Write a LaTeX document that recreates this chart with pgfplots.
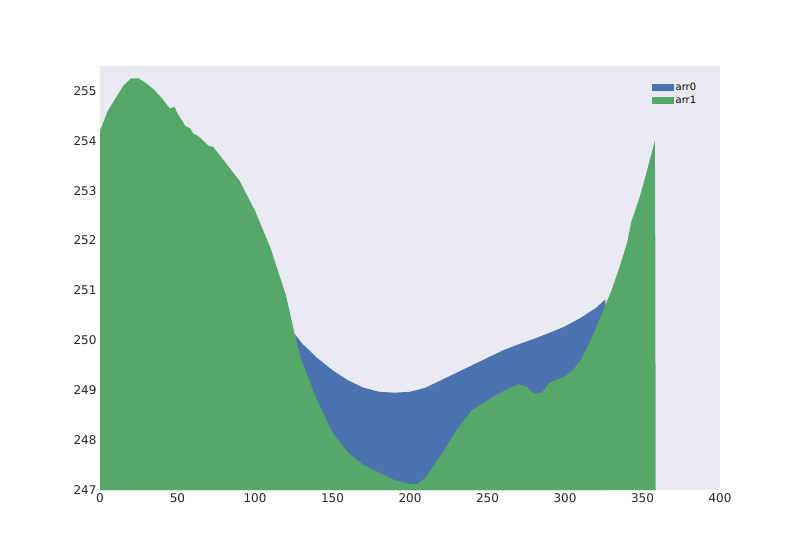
\documentclass[border=0pt]{standalone}
\usepackage{pgfplots}
\pgfplotsset{compat=1.18}
\usepackage{fontspec}
\setmainfont{DejaVu Sans}
\definecolor{sbblue}{HTML}{4C72B0}
\definecolor{sbgreen}{HTML}{55A868}
\definecolor{sbbg}{HTML}{EAEAF2}
\begin{document}
\begin{tikzpicture}
\path[use as bounding box] (0,0) rectangle (800pt,550pt);
\begin{axis}[at={(100pt,60pt)}, anchor=south west,
  scale only axis, width=620pt, height=424pt,
  xmin=0, xmax=400, ymin=247, ymax=255.5,
  axis background/.style={fill=sbbg}, axis line style={draw=none},
  tick style={draw=none},
  xtick={0,50,...,400}, ytick={247,...,255},
  ticklabel style={font=\fontsize{12}{14}\selectfont, text=black!85},
  /pgf/number format/assume math mode=true,
  /pgf/number format/1000 sep={},
  legend style={draw=none, fill=none, at={(0.97,0.97)}, anchor=north east, font=\fontsize{10}{12}\selectfont},
  legend cell align=left,
  legend image code/.code={\fill[#1] (0pt,-3.5pt) rectangle (22pt,3.5pt);},
]
\addplot[fill=sbblue, draw=none] coordinates {
(0,254.1)(20,255.1)(40,254.7)(60,254.1)(80,253.5)(100,252.5)(120,250.85)(125,250.15)
(130,249.95)(140,249.65)(150,249.4)(160,249.2)(170,249.05)(180,248.97)(190,248.95)(200,248.97)
(210,249.05)(220,249.2)(230,249.35)(240,249.5)(250,249.65)(260,249.8)(270,249.92)(280,250.03)
(290,250.15)(300,250.28)(310,250.45)(320,250.65)(326,250.82)(326.5,247)
} \closedcycle;
\addlegendentry{arr0}
\addplot[fill=sbgreen, draw=none] coordinates {
(0,254.2)(5,254.6)(10,254.85)(15,255.1)(20,255.25)(25,255.25)(30,255.15)(35,255.02)(40,254.85)(45,254.65)
(48,254.68)(50,254.55)(55,254.3)(58,254.25)(60,254.15)(63,254.1)(65,254.05)(70,253.9)(73,253.88)(75,253.8)(80,253.6)
(90,253.2)(100,252.6)(110,251.85)(120,250.9)(125,250.2)(130,249.6)(140,248.8)(150,248.15)
(160,247.75)(170,247.5)(180,247.35)(190,247.2)(200,247.12)(205,247.13)(210,247.25)(220,247.7)
(230,248.2)(240,248.6)(250,248.8)(260,248.98)(265,249.05)(270,249.12)(275,249.08)(280,248.93)
(285,248.95)(290,249.15)(300,249.28)(305,249.4)(310,249.6)(315,249.9)(320,250.25)(326,250.7)
(330,251.0)(335,251.45)(340,251.95)(343,252.4)(348,252.85)(352,253.3)(358,254.0)(358.3,251.4)(358.5,247)
} \closedcycle;
\addlegendentry{arr1}
\end{axis}
\end{tikzpicture}
\end{document}
